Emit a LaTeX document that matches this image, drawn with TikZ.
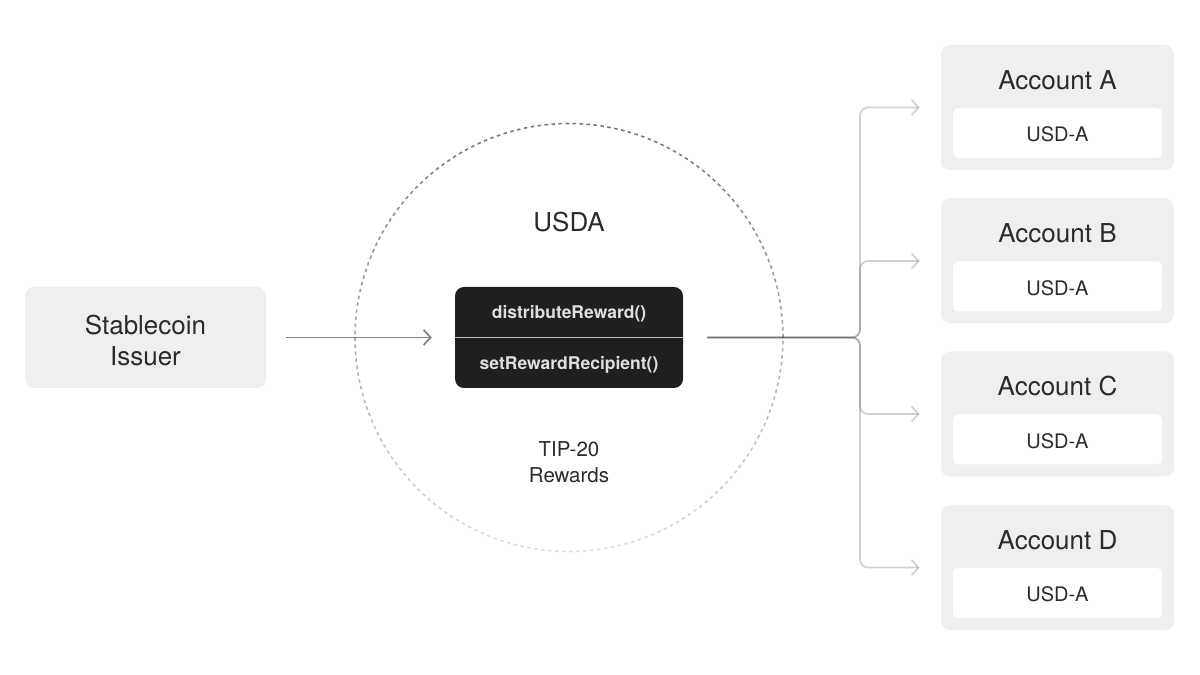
\documentclass[tikz,border=0pt]{standalone}
\usepackage{fontspec}
\setmainfont{TeX Gyre Heros}
\usetikzlibrary{arrows.meta,calc}
\definecolor{ink}{HTML}{2B2B2B}
\definecolor{panelgray}{HTML}{EFEFEF}
\definecolor{chip}{HTML}{1F1F1F}

\begin{document}
\begin{tikzpicture}[x=1pt,y=1pt,
  panel/.style={fill=panelgray,rounded corners=9pt,inner sep=0pt},
  title/.style={text=ink,font=\fontsize{26}{31}\selectfont,align=center},
  small/.style={text=ink,font=\fontsize{20.5}{26}\selectfont,align=center},
  method/.style={text=white!88!black,font=\bfseries\fontsize{17.5}{21}\selectfont},
  flow/.style={-{Straight Barb[length=7pt,width=15pt]},line width=1.7pt},
  branch/.style={flow,black,opacity=0.18,rounded corners=8pt}]
  \useasboundingbox (0,0) rectangle (1200,675);

  \node[panel,minimum width=241,minimum height=101] (issuer) at (145.5,337.5) {};
  \node[title] (issuer-text) at (145.5,334.5) {Stablecoin\\Issuer};

  \node[fill=chip,rounded corners=9pt,minimum width=228,minimum height=101] (core) at (569,337.5) {};
  \draw[white!75!black,line width=1.4pt] (core.west) -- (core.east);
  \node[method] (dist) at (569,361) {distributeReward()};
  \node[method] (setr) at (569,310) {setRewardRecipient()};

  \foreach \i in {0,...,47}{
    \pgfmathsetmacro\shade{33+20*sin(\i*7.5+3.75)}
    \draw[black!\shade,dash pattern=on 3.5pt off 3.5pt,line width=1.6pt]
      ($(core.center)+(\i*7.5:214)$) arc[start angle=\i*7.5,end angle=\i*7.5+7.5,radius=214];
  }

  \node[title] (usda) at (569,453) {USDA};
  \node[small] (tip) at (569,213) {TIP-20\\Rewards};

  \draw[flow,black!50,shorten <=20pt,shorten >=23pt] (issuer) -- (core);

  \coordinate (fork) at (860,337.5);
  \foreach \n/\y in {A/567.5,B/414,C/261,D/107.5}{
    \node[panel,minimum width=233,minimum height=125] (acc-\n) at (1057.5,\y) {};
    \node[title] (name-\n) at (1057.5,\y+27.5) {Account \n};
    \node[fill=white,rounded corners=5pt,minimum width=209,minimum height=50,
      text=ink,font=\fontsize{20}{24}\selectfont] (usd-\n) at (1057.5,\y-25.5) {};
    \node[text=ink,font=\fontsize{20}{24}\selectfont] (code-\n) at (1057.5,\y-27) {USD-A};
    \draw[branch,shorten <=24pt,shorten >=21pt] (core.east) -- (fork) |- (acc-\n);
  }
\end{tikzpicture}
\end{document}
